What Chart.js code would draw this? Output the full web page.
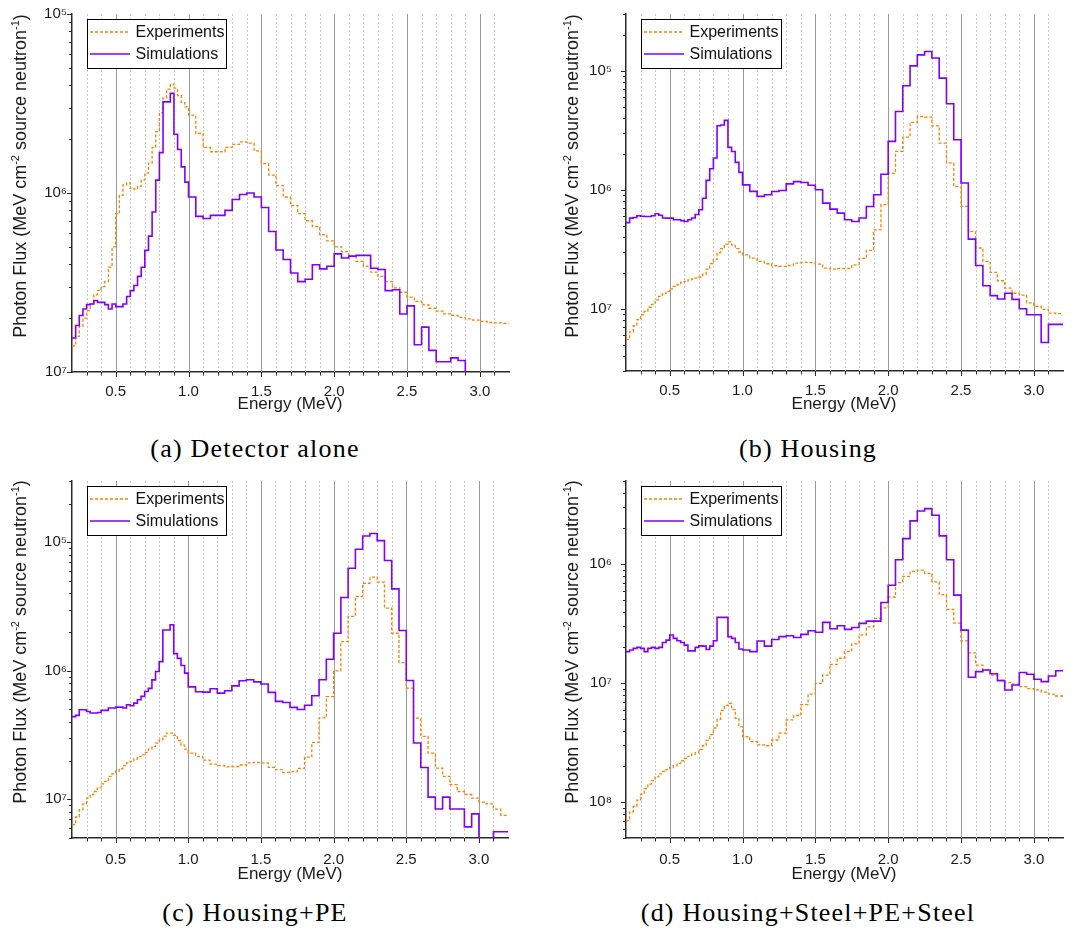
<!DOCTYPE html>
<html>
<head>
<meta charset="utf-8">
<script src="https://cdn.jsdelivr.net/npm/chart.js@4.4.1/dist/chart.umd.min.js"></script>
<style>
  html, body { margin: 0; padding: 0; background: #fff; }
  body { width: 1077px; height: 932px; position: relative; overflow: hidden; font-family: "Liberation Sans", Arial, sans-serif; color: #1a1a1a; }
  canvas.cv { position: absolute; }
  .ytitle { position: absolute; white-space: nowrap; font-size: 18px; line-height: 20px; transform: translate(-50%, -50%) rotate(-90deg); }
  .xtitle { position: absolute; white-space: nowrap; font-size: 17px; line-height: 20px; transform: translate(-50%, -50%); }
  .ytitle sup { font-size: 11px; line-height: 0; position: relative; top: -1px; vertical-align: 0.55em; }
  .cap { position: absolute; white-space: nowrap; font-family: "Liberation Serif", "Times New Roman", serif; font-size: 26px; letter-spacing: 1.2px; line-height: 30px; transform: translate(-50%, -50%); color: #000; }
</style>
</head>
<body>
<canvas id="cA" class="cv" width="540" height="400" style="left:0px;top:0px"></canvas>
<canvas id="cB" class="cv" width="537" height="400" style="left:540px;top:0px"></canvas>
<canvas id="cC" class="cv" width="540" height="400" style="left:0px;top:466px"></canvas>
<canvas id="cD" class="cv" width="537" height="400" style="left:540px;top:466px"></canvas>

<div class="ytitle" style="left:20px;top:176px">Photon Flux (MeV cm<sup>-2</sup> source neutron<sup>-1</sup>)</div>
<div class="ytitle" style="left:572px;top:176px">Photon Flux (MeV cm<sup>-2</sup> source neutron<sup>-1</sup>)</div>
<div class="ytitle" style="left:20px;top:642px">Photon Flux (MeV cm<sup>-2</sup> source neutron<sup>-1</sup>)</div>
<div class="ytitle" style="left:572px;top:642px">Photon Flux (MeV cm<sup>-2</sup> source neutron<sup>-1</sup>)</div>

<div class="xtitle" style="left:290px;top:404px">Energy (MeV)</div>
<div class="xtitle" style="left:844px;top:404px">Energy (MeV)</div>
<div class="xtitle" style="left:290px;top:874px">Energy (MeV)</div>
<div class="xtitle" style="left:844px;top:874px">Energy (MeV)</div>

<div class="cap" style="left:255px;top:449px">(a) Detector alone</div>
<div class="cap" style="left:808px;top:449px">(b) Housing</div>
<div class="cap" style="left:255px;top:913px">(c) Housing+PE</div>
<div class="cap" style="left:808px;top:913px">(d) Housing+Steel+PE+Steel</div>

<script>
// ---------- categories: energy bin starts (MeV) ----------
const binStarts = [0.200,0.225,0.250,0.275,0.300,0.325,0.350,0.375,0.400,0.425,0.450,0.475,0.500,0.525,0.550,0.575,0.600,0.625,0.650,0.675,0.700,0.725,0.750,0.775,0.800,0.825,0.850,0.875,0.900,0.925,0.950,0.975,
  1.00,1.05,1.10,1.15,1.20,1.25,1.30,1.35,1.40,1.45,1.50,1.55,1.60,1.65,1.70,1.75,1.80,1.85,1.90,1.95,2.00,2.05,2.10,2.15,2.20,2.25,2.30,2.35,2.40,2.45,2.50,2.55,2.60,2.65,2.70,2.75,2.80,2.85,2.90,2.95,3.00,3.05,3.10,3.15];
const binEnd = 3.2;

// ---------- tick labels ----------
const xMajorTicks = [0.5, 1.0, 1.5, 2.0, 2.5, 3.0];
const xTickLabels = ['0.5', '1.0', '1.5', '2.0', '2.5', '3.0'];
const xMinorGrid = [0.3,0.4,0.6,0.7,0.8,0.9,1.1,1.2,1.3,1.4,1.6,1.7,1.8,1.9,2.1,2.2,2.3,2.4,2.6,2.7,2.8,2.9,3.1];
const yTicksABC = [1e-7, 1e-6, 1e-5];
const yLabelsABC = ['10\u2077', '10\u2076', '10\u2075'];
const yTicksD = [1e-8, 1e-7, 1e-6];
const yLabelsD = ['10\u2078', '10\u2077', '10\u2076'];

// ---------- series: (a) Detector alone ----------
const expDetector = [1.4e-7,1.58e-7,1.8e-7,2.0e-7,2.2e-7,2.4e-7,2.7e-7,2.85e-7,3.0e-7,3.2e-7,3.85e-7,5.0e-7,7.66e-7,9.7e-7,1.11e-6,1.14e-6,1.06e-6,1.05e-6,1.09e-6,1.18e-6,1.29e-6,1.47e-6,1.8e-6,2.2e-6,2.8e-6,3.4e-6,3.8e-6,4.06e-6,3.85e-6,3.5e-6,3.2e-6,3.03e-6,
  2.72e-6,2.15e-6,1.8e-6,1.7e-6,1.7e-6,1.8e-6,1.87e-6,1.93e-6,1.9e-6,1.72e-6,1.46e-6,1.26e-6,1.1e-6,9.5e-7,8.5e-7,7.66e-7,7.0e-7,6.5e-7,5.85e-7,5.4e-7,5.0e-7,4.7e-7,4.42e-7,4.15e-7,3.9e-7,3.61e-7,3.42e-7,3.2e-7,2.95e-7,2.79e-7,2.62e-7,2.48e-7,2.37e-7,2.27e-7,2.19e-7,2.11e-7,2.07e-7,2.02e-7,1.98e-7,1.95e-7,1.92e-7,1.89e-7,1.88e-7,1.87e-7];
const simDetector = [1.55e-7,1.82e-7,2.07e-7,2.25e-7,2.38e-7,2.40e-7,2.51e-7,2.45e-7,2.45e-7,2.38e-7,2.25e-7,2.40e-7,2.32e-7,2.32e-7,2.40e-7,2.64e-7,2.85e-7,3.04e-7,3.42e-7,3.85e-7,4.78e-7,5.74e-7,7.83e-7,1.18e-6,1.68e-6,3.23e-6,3.23e-6,3.60e-6,2.13e-6,1.75e-6,1.40e-6,1.15e-6,
  9.5e-7,7.4e-7,7.2e-7,7.5e-7,7.5e-7,8.0e-7,9.2e-7,9.8e-7,1.0e-6,9.5e-7,8.3e-7,6.1e-7,4.8e-7,4.25e-7,3.57e-7,3.2e-7,3.3e-7,3.97e-7,3.77e-7,3.9e-7,4.57e-7,4.33e-7,4.44e-7,4.48e-7,4.48e-7,3.8e-7,3.74e-7,2.85e-7,2.88e-7,2.11e-7,2.34e-7,1.42e-7,1.78e-7,1.32e-7,1.14e-7,1.14e-7,1.2e-7,1.16e-7,5e-8,null,null,null,null,null];

// ---------- series: (b) Housing ----------
const expHousing = [5.5e-8,6.4e-8,7.2e-8,8.1e-8,8.9e-8,9.5e-8,1.03e-7,1.09e-7,1.19e-7,1.27e-7,1.34e-7,1.4e-7,1.47e-7,1.54e-7,1.6e-7,1.67e-7,1.7e-7,1.75e-7,1.78e-7,1.81e-7,1.85e-7,1.95e-7,2.15e-7,2.4e-7,2.6e-7,2.97e-7,3.2e-7,3.5e-7,3.65e-7,3.45e-7,3.2e-7,3.0e-7,
  2.84e-7,2.66e-7,2.5e-7,2.39e-7,2.3e-7,2.27e-7,2.31e-7,2.42e-7,2.45e-7,2.44e-7,2.37e-7,2.2e-7,2.15e-7,2.18e-7,2.18e-7,2.34e-7,2.65e-7,3.1e-7,4.6e-7,7.5e-7,1.38e-6,2.1e-6,2.77e-6,3.68e-6,4.13e-6,4.08e-6,3.45e-6,2.47e-6,1.68e-6,1.07e-6,7.24e-7,4.47e-7,3.24e-7,2.5e-7,2.02e-7,1.72e-7,1.49e-7,1.35e-7,1.3e-7,1.12e-7,1.05e-7,9.9e-8,9.2e-8,9.1e-8];
const simHousing = [5.3e-7,5.78e-7,5.85e-7,6.05e-7,6.0e-7,5.97e-7,5.97e-7,6.05e-7,6.28e-7,6.1e-7,5.8e-7,5.78e-7,5.78e-7,5.6e-7,5.6e-7,5.5e-7,5.42e-7,5.6e-7,5.8e-7,6.2e-7,6.8e-7,8.5e-7,1.2e-6,1.5e-6,1.85e-6,3.45e-6,3.5e-6,3.83e-6,2.27e-6,2.1e-6,1.7e-6,1.4e-6,
  1.1e-6,9.7e-7,8.8e-7,9.08e-7,9.68e-7,9.87e-7,1.12e-6,1.17e-6,1.15e-6,1.09e-6,1.0e-6,7.73e-7,6.88e-7,6.37e-7,5.6e-7,5.42e-7,5.8e-7,7.24e-7,9.08e-7,1.35e-6,2.55e-6,4.55e-6,7.48e-6,1.1e-5,1.36e-5,1.45e-5,1.28e-5,8.67e-6,5.28e-6,2.63e-6,1.14e-6,3.85e-7,2.31e-7,1.56e-7,1.29e-7,1.21e-7,1.35e-7,1.2e-7,1.0e-7,8.9e-8,8.9e-8,5.2e-8,7.4e-8,7.4e-8];

// ---------- series: (c) Housing+PE ----------
const expHousingPE = [6.35e-8,7.3e-8,8.3e-8,9.2e-8,1.02e-7,1.09e-7,1.15e-7,1.22e-7,1.32e-7,1.38e-7,1.51e-7,1.58e-7,1.66e-7,1.73e-7,1.83e-7,1.92e-7,1.97e-7,2.06e-7,2.15e-7,2.22e-7,2.32e-7,2.46e-7,2.58e-7,2.74e-7,2.9e-7,3.1e-7,3.28e-7,3.28e-7,3.14e-7,2.87e-7,2.64e-7,2.46e-7,
  2.29e-7,2.16e-7,2.02e-7,1.88e-7,1.83e-7,1.79e-7,1.8e-7,1.85e-7,1.92e-7,1.94e-7,1.92e-7,1.77e-7,1.7e-7,1.62e-7,1.64e-7,1.74e-7,2.13e-7,2.77e-7,4.3e-7,6.3e-7,1.0e-6,1.69e-6,2.65e-6,3.8e-6,4.8e-6,5.35e-6,4.9e-6,3.07e-6,1.96e-6,1.16e-6,7.33e-7,4.29e-7,3.09e-7,2.29e-7,1.75e-7,1.51e-7,1.3e-7,1.15e-7,1.09e-7,1.02e-7,9.5e-8,9.2e-8,8.4e-8,7.5e-8];
const simHousingPE = [4.4e-7,4.5e-7,4.98e-7,4.98e-7,4.83e-7,4.69e-7,4.69e-7,4.74e-7,4.92e-7,4.92e-7,5.13e-7,5.13e-7,5.22e-7,5.22e-7,5.13e-7,5.44e-7,5.35e-7,5.6e-7,5.95e-7,6.32e-7,6.91e-7,7.3e-7,8.5e-7,9.88e-7,1.18e-6,2.08e-6,2.08e-6,2.28e-6,1.36e-6,1.25e-6,1.1e-6,9.59e-7,
  7.5e-7,6.87e-7,6.83e-7,7.25e-7,6.7e-7,6.99e-7,7.64e-7,8.36e-7,8.51e-7,8.2e-7,7.9e-7,6.8e-7,5.78e-7,5.67e-7,5.19e-7,5.0e-7,5.4e-7,6.39e-7,8.51e-7,1.23e-6,1.96e-6,3.72e-6,6.28e-6,8.83e-6,1.12e-5,1.17e-5,1.03e-5,7.21e-6,4.34e-6,2.06e-6,8.41e-7,2.74e-7,1.77e-7,1.04e-7,8.4e-8,1.04e-7,8.4e-8,8.4e-8,6.1e-8,7.7e-8,3e-8,3e-8,5.6e-8,5.6e-8];

// ---------- series: (d) Housing+Steel+PE+Steel ----------
const expSteel = [7.0e-9,8.3e-9,9.2e-9,1.04e-8,1.17e-8,1.3e-8,1.42e-8,1.52e-8,1.63e-8,1.73e-8,1.81e-8,1.88e-8,1.95e-8,2.03e-8,2.12e-8,2.23e-8,2.33e-8,2.43e-8,2.53e-8,2.61e-8,2.78e-8,2.98e-8,3.3e-8,3.7e-8,4.2e-8,4.97e-8,5.9e-8,6.5e-8,6.77e-8,6.0e-8,5.07e-8,4.3e-8,
  3.56e-8,3.23e-8,3.03e-8,2.98e-8,3.33e-8,3.8e-8,4.91e-8,5.35e-8,6.6e-8,8.1e-8,9.97e-8,1.17e-7,1.44e-7,1.62e-7,1.85e-7,2.14e-7,2.55e-7,2.97e-7,3.5e-7,4.3e-7,5.3e-7,7.0e-7,7.9e-7,8.7e-7,8.9e-7,8.35e-7,7.1e-7,5.55e-7,4.17e-7,3.2e-7,2.27e-7,1.8e-7,1.42e-7,1.29e-7,1.17e-7,1.06e-7,1.01e-7,9.8e-8,9.35e-8,9.0e-8,8.77e-8,8.4e-8,8.1e-8,7.8e-8];
const simSteel = [1.84e-7,1.9e-7,1.96e-7,2.0e-7,1.96e-7,1.84e-7,1.96e-7,2.0e-7,1.96e-7,2.0e-7,2.2e-7,2.3e-7,2.54e-7,2.38e-7,2.27e-7,2.2e-7,2.09e-7,1.87e-7,1.87e-7,2.0e-7,2.06e-7,2.05e-7,1.92e-7,2.05e-7,2.27e-7,3.57e-7,3.57e-7,3.57e-7,2.46e-7,2.38e-7,2.2e-7,1.94e-7,
  1.9e-7,1.84e-7,2.26e-7,2.05e-7,2.33e-7,2.46e-7,2.5e-7,2.42e-7,2.57e-7,2.76e-7,2.68e-7,3.24e-7,2.87e-7,3.04e-7,2.83e-7,2.94e-7,3.18e-7,3.32e-7,3.32e-7,4.77e-7,6.66e-7,1.09e-6,1.64e-6,2.31e-6,2.8e-6,2.93e-6,2.58e-6,1.73e-6,1.09e-6,5.49e-7,2.79e-7,1.12e-7,1.25e-7,1.29e-7,1.2e-7,1.05e-7,8.77e-8,9.66e-8,1.23e-7,1.19e-7,1.08e-7,1.03e-7,1.15e-7,1.27e-7];

// ---------- styles ----------
const EXP_COLOR = '#ff8000';
const SIM_COLOR = '#8000ff';
const AXIS_COLOR = '#2a2a2a';
const FONT = '"Liberation Sans", Arial, sans-serif';

const decorPlugin = {
  id: 'decor',
  beforeDatasetsDraw(chart) {
    const { ctx, chartArea: a } = chart;
    const x = chart.scales.x;
    ctx.save();
    ctx.lineWidth = 1;
    ctx.strokeStyle = '#c6c6c6';
    ctx.setLineDash([2, 2]);
    xMinorGrid.forEach(v => {
      const p = Math.round(x.getPixelForValue(v)) + 0.5;
      ctx.beginPath(); ctx.moveTo(p, a.top); ctx.lineTo(p, a.bottom); ctx.stroke();
    });
    ctx.setLineDash([]);
    ctx.strokeStyle = '#9a9a9a';
    xMajorTicks.forEach(v => {
      const p = Math.round(x.getPixelForValue(v)) + 0.5;
      ctx.beginPath(); ctx.moveTo(p, a.top); ctx.lineTo(p, a.bottom); ctx.stroke();
    });
    ctx.restore();
  },
  afterDraw(chart, args, opts) {
    const { ctx, chartArea: a } = chart;
    const x = chart.scales.x, y = chart.scales.y;
    ctx.save();
    ctx.strokeStyle = AXIS_COLOR;
    ctx.lineWidth = 1;
    // x tick marks
    xMinorGrid.forEach(v => {
      const p = Math.round(x.getPixelForValue(v)) + 0.5;
      ctx.beginPath(); ctx.moveTo(p, a.bottom); ctx.lineTo(p, a.bottom + 3.5); ctx.stroke();
    });
    xMajorTicks.forEach(v => {
      const p = Math.round(x.getPixelForValue(v)) + 0.5;
      ctx.beginPath(); ctx.moveTo(p, a.bottom); ctx.lineTo(p, a.bottom + 5); ctx.stroke();
    });
    // y log ticks (major at decades, minor at 2..9)
    const lo = Math.floor(Math.log10(y.min)), hi = Math.ceil(Math.log10(y.max));
    for (let d = lo; d <= hi; d++) {
      for (let m = 1; m <= 9; m++) {
        const v = m * Math.pow(10, d);
        if (v < y.min * 0.9999 || v > y.max * 1.0001) continue;
        const p = Math.round(y.getPixelForValue(v)) + 0.5;
        const len = m === 1 ? 5 : 3;
        ctx.beginPath(); ctx.moveTo(a.left, p); ctx.lineTo(a.left - len, p); ctx.stroke();
      }
    }
    // legend box
    const L = Math.round(a.left + 15) + 0.5, T = Math.round(a.top + 4.5) + 0.5;
    const W = opts.legendW, H = 49;
    ctx.fillStyle = '#fff';
    ctx.fillRect(L, T, W, H);
    ctx.strokeStyle = '#000';
    ctx.lineWidth = 1;
    ctx.strokeRect(L, T, W, H);
    const rowY = [T + 12.5, T + 34.5];
    [0, 1].forEach((di, k) => {
      const ds = chart.data.datasets[di];
      ctx.save();
      ctx.strokeStyle = ds.borderColor;
      ctx.lineWidth = ds.borderWidth;
      ctx.setLineDash(ds.borderDash || []);
      ctx.beginPath(); ctx.moveTo(L + 2.5, rowY[k]); ctx.lineTo(L + 42.5, rowY[k]); ctx.stroke();
      ctx.restore();
      ctx.fillStyle = '#111';
      ctx.font = '16px ' + FONT;
      ctx.textBaseline = 'middle';
      ctx.textAlign = 'left';
      ctx.fillText(ds.label, L + 48, rowY[k] + 0.5);
    });
    ctx.restore();
  }
};

function series(vals) {
  return binStarts.map((e, i) => ({ x: e, y: vals[i] })).concat([{ x: binEnd, y: vals[vals.length - 1] }]);
}

function noPad(s) { s.paddingTop = 0; s.paddingBottom = 0; s.paddingLeft = 0; s.paddingRight = 0; }

function makeChart(id, o) {
  return new Chart(document.getElementById(id), {
    type: 'line',
    data: {
      datasets: [
        { label: 'Experiments', order: 2, data: series(o.exp), borderColor: EXP_COLOR, borderWidth: 1.3, borderDash: [3, 2],
          pointRadius: 0, stepped: true, fill: false, tension: 0, spanGaps: false, clip: 0 },
        { label: 'Simulations', order: 1, data: series(o.sim), borderColor: SIM_COLOR, borderWidth: 1.6, borderDash: [],
          pointRadius: 0, stepped: true, fill: false, tension: 0, spanGaps: false, clip: 0 }
      ]
    },
    options: {
      responsive: false,
      animation: false,
      events: [],
      layout: { autoPadding: false, padding: { left: 0, top: o.padTop, right: o.padRight, bottom: 0 } },
      plugins: { legend: { display: false }, tooltip: { enabled: false }, decor: { legendW: o.legendW } },
      scales: {
        x: {
          type: 'linear', min: 0.2, max: 3.2, bounds: 'data',
          grid: { display: false, drawTicks: false },
          border: { display: true, color: AXIS_COLOR, width: 1.5 },
          ticks: { autoSkip: false, maxRotation: 0, padding: o.xPad, color: '#1a1a1a', font: { family: FONT, size: 15 },
                   callback: (v, i) => xTickLabels[i] },
          afterBuildTicks: s => { s.ticks = xMajorTicks.map(v => ({ value: v })); },
          afterFit: s => { s.height = o.xH; noPad(s); }
        },
        y: {
          type: 'logarithmic', min: o.yMin, max: o.yMax, bounds: 'data',
          grid: { display: false, drawTicks: false },
          border: { display: true, color: AXIS_COLOR, width: 1.5 },
          ticks: { autoSkip: false, padding: o.yPad, color: '#1a1a1a', font: { family: FONT, size: 15 },
                   callback: (v, i) => o.yLabels[i] },
          afterBuildTicks: s => { s.ticks = o.yTicks.map(v => ({ value: v })); },
          afterFit: s => { s.width = o.yW; noPad(s); }
        }
      }
    },
    plugins: [decorPlugin]
  });
}

makeChart('cA', { exp: expDetector, sim: simDetector, yMin: 1e-7, yMax: 1e-5, yTicks: yTicksABC, yLabels: yLabelsABC,
  padTop: 14, padRight: 31, yW: 72, xH: 28, yPad: 5, xPad: 11, legendW: 139 });
makeChart('cB', { exp: expHousing, sim: simHousing, yMin: 3e-8, yMax: 3e-5, yTicks: yTicksABC, yLabels: yLabelsABC,
  padTop: 14, padRight: 14, yW: 86, xH: 29, yPad: 14, xPad: 11, legendW: 140 });
makeChart('cC', { exp: expHousingPE, sim: simHousingPE, yMin: 5e-8, yMax: 3e-5, yTicks: yTicksABC, yLabels: yLabelsABC,
  padTop: 15, padRight: 32, yW: 72, xH: 28, yPad: 5, xPad: 13, legendW: 139 });
makeChart('cD', { exp: expSteel, sim: simSteel, yMin: 5e-9, yMax: 5e-6, yTicks: yTicksD, yLabels: yLabelsD,
  padTop: 15, padRight: 14, yW: 86, xH: 28, yPad: 14, xPad: 13, legendW: 140 });
</script>
</body>
</html>
